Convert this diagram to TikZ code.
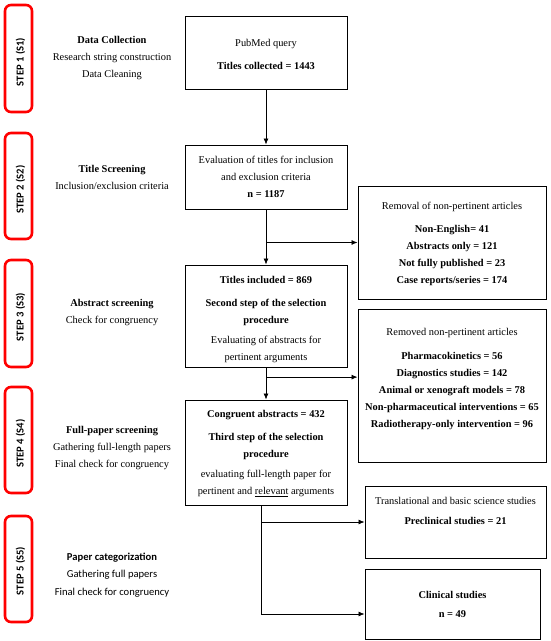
\documentclass[tikz,border=0pt]{standalone}
\usepackage{fontspec}
\setmainfont{Liberation Serif}
\newfontfamily\serifx{Liberation Serif}
\newfontfamily\calib{Carlito}
\usetikzlibrary{arrows.meta,calc}
\begin{document}
\begin{tikzpicture}[x=1pt,y=-1pt,
  box/.style={draw, line width=1pt, inner sep=0pt},
  stepbox/.style={draw=red, line width=2.6pt, rounded corners=6pt, minimum width=27pt, inner sep=0pt},
  steplabel/.style={rotate=90, font=\calib\bfseries\fontsize{10.6}{12}\selectfont, inner sep=0pt},
  txt/.style={align=center, font=\serifx\fontsize{10.4}{17}\selectfont, inner sep=0pt},
  stxt/.style={align=center, font=\calib\fontsize{10.6}{17.5}\selectfont, inner sep=0pt},
  arr/.style={-{Latex[length=6pt,width=5pt]}, line width=0.7pt}
]
\useasboundingbox (0,0) rectangle (550,641);

% step boxes
\node[stepbox, minimum height=107pt] (s1) at (18.5,58.5) {};
\node[stepbox, minimum height=106pt] (s2) at (18.5,186) {};
\node[stepbox, minimum height=107pt] (s3) at (18.5,313.5) {};
\node[stepbox, minimum height=106pt] (s4) at (18.5,440) {};
\node[stepbox, minimum height=106pt] (s5) at (18.5,569) {};
\node[steplabel] (l1) at ($(s1.center)+(2,3.5)$) {STEP 1 (S1)};
\node[steplabel] (l2) at ($(s2.center)+(2,3.5)$) {STEP 2 (S2)};
\node[steplabel] (l3) at ($(s3.center)+(2,3.5)$) {STEP 3 (S3)};
\node[steplabel] (l4) at ($(s4.center)+(2,3.5)$) {STEP 4 (S4)};
\node[steplabel] (l5) at ($(s5.center)+(2,2)$) {STEP 5 (S5)};

% descriptions
\node[txt] (d1) at (112,58) {\textbf{Data Collection}\\Research string construction\\Data Cleaning};
\node[txt] (d2) at (112,177.5) {\textbf{Title Screening}\\Inclusion/exclusion criteria};
\node[txt] (d3) at (112,312.5) {\textbf{Abstract screening}\\Check for congruency};
\node[txt] (d4) at (112,448) {\textbf{Full-paper screening}\\Gathering full-length papers\\Final check for congruency};
\node[stxt] (d5) at (112,575) {\textbf{Paper categorization}\\Gathering full papers\\Final check for congruency};

% main boxes
\node[box, minimum width=162pt, minimum height=73pt] (b1) at (266,52.5) {};
\node[box, minimum width=162pt, minimum height=64pt] (b2) at (266,177) {};
\node[box, minimum width=162pt, minimum height=102pt] (b3) at (266,316) {};
\node[box, minimum width=162pt, minimum height=105pt] (b4) at (266,452.5) {};
\node[box, minimum width=188pt, minimum height=113pt] (r1) at (452,242.5) {};
\node[box, minimum width=188pt, minimum height=153pt] (r2) at (452,385.5) {};
\node[box, minimum width=181pt, minimum height=72pt] (r3) at (455.5,522) {};
\node[box, minimum width=175pt, minimum height=70pt] (r4) at (452.5,604) {};

% box texts
\node[txt] (t1) at (266,54.5) {PubMed query\\[6pt]\textbf{Titles collected = 1443}};
\node[txt] (t2) at (266,177) {Evaluation of titles for inclusion\\and exclusion criteria\\\textbf{n = 1187}};
\node[txt] (t3) at (452,244) {Removal of non-pertinent articles\\[6pt]\textbf{Non-English= 41}\\\textbf{Abstracts only = 121}\\\textbf{Not fully published = 23}\\\textbf{Case reports/series = 174}};
\node[txt] (t4) at (266,319.5) {\textbf{Titles included = 869}\\[6pt]\textbf{Second step of the selection}\\\textbf{procedure}\\[3pt]Evaluating of abstracts for\\pertinent arguments};
\node[txt] (t5) at (452,379.5) {Removed non-pertinent articles\\[7pt]\textbf{Pharmacokinetics = 56}\\\textbf{Diagnostics studies = 142}\\\textbf{Animal or xenograft models = 78}\\\textbf{Non-pharmaceutical interventions = 65}\\\textbf{Radiotherapy-only intervention = 96}};
\node[txt] (t6) at (266,454) {\textbf{Congruent abstracts = 432}\\[6pt]\textbf{Third step of the selection}\\\textbf{procedure}\\[3pt]evaluating full-length paper for\\pertinent and \underline{relevant} arguments};
\node[txt] (t7) at (455.5,511) {Translational and basic science studies\\[3pt]\textbf{Preclinical studies = 21}};
\node[txt] (t8) at (452.5,604.5) {\textbf{Clinical studies}\\[2pt]\textbf{n = 49}};

% connectors
\draw[arr] (b1.south) -- (b2.north);
\draw[arr] (b2.south) -- (b3.north);
\draw[arr] (b2.south |- r1.west) -- (r1.west);
\draw[arr] (b3.south) -- (b4.north);
\coordinate (j2) at ($(b3.south)!0.3!(b4.north)$);
\draw[arr] (j2) -- (j2 -| r2.west);
\coordinate (j3) at ($(b4.south)+(-5,0)$);
\coordinate (j4) at ($(r4.west)+(0,10)$);
\draw[arr] (j3) -- (j3 |- j4) -- (j4);
\draw[arr] (j3 |- r3.west) -- (r3.west);
\end{tikzpicture}
\end{document}
